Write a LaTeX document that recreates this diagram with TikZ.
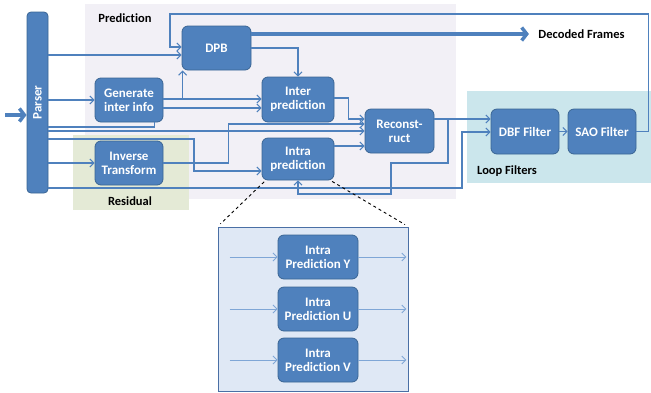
\documentclass[tikz,border=0pt]{standalone}
\usepackage{fontspec}
\setmainfont{Carlito}[Ligatures=NoCommon]
\usetikzlibrary{arrows.meta,positioning}
\definecolor{blkfill}{HTML}{4F81BD}
\definecolor{blkdraw}{HTML}{3A6594}
\definecolor{predbg}{HTML}{F2F0F6}
\definecolor{resbg}{HTML}{E4EAD6}
\definecolor{loopbg}{HTML}{CBE6EC}
\definecolor{zoombg}{HTML}{DFE8F5}
\definecolor{zoomdraw}{HTML}{4A6FA5}
\definecolor{thinline}{HTML}{7FA6D6}

\begin{document}
\begin{tikzpicture}[x=1pt,y=-1pt,
>={Straight Barb[length=4pt,width=8pt]},
blk/.style={draw=blkdraw, fill=blkfill, rounded corners=6pt, line width=0.8pt, text=white, font=\fontsize{13}{14}\selectfont\bfseries, align=center, inner sep=1pt},
conn/.style={draw=blkfill, line width=1.1pt},
fat/.style={draw=blkfill, line width=3.5pt, -{Straight Barb[length=5pt,width=13pt]}},
lbl/.style={font=\fontsize{12.5}{14}\selectfont\bfseries}]%pixel coordinates, y downwards
\useasboundingbox (0,0) rectangle (651,392);
% background regions
\fill[predbg] (85,4) rectangle (456,199);
\fill[resbg] (73,135) rectangle (189,210);
\fill[loopbg] (467,91) rectangle (651,183);
\node[lbl] (predl) at (125,18) {Prediction};
\node[lbl] (resl) at (130,201) {Residual};
\node[lbl] (loopl) at (507,171) {Loop Filters};
% blocks
\node[blk, minimum width=21pt, minimum height=181pt, rounded corners=4pt] (P) at (37.5,102.5) {\rotatebox{90}{Parser}};
\node[blk, minimum width=69pt, minimum height=44pt] (DPB) at (216.5,48) {DPB};
\node[blk, minimum width=68pt, minimum height=44pt] (GII) at (129,100) {Generate\\inter info};
\node[blk, minimum width=72pt, minimum height=45pt] (Inter) at (298,99.5) {Inter\\prediction};
\node[blk, minimum width=72pt, minimum height=42pt] (Intra) at (298,159) {Intra\\prediction};
\node[blk, minimum width=68pt, minimum height=44pt] (IT) at (129,163) {Inverse\\Transform};
\node[blk, minimum width=69pt, minimum height=44pt] (Rec) at (399.5,131) {Reconst-\\ruct};
\node[blk, minimum width=68pt, minimum height=45pt] (DBF) at (525,131.5) {DBF Filter};
\node[blk, minimum width=68pt, minimum height=45pt] (SAO) at (602,131.5) {SAO Filter};
\node[lbl] (DF) at (581.5,34) {Decoded Frames};
\coordinate (In) at (5,115);
% inputs and outputs
\draw[fat] (In) -- (P.west |- In);
\draw[fat] (DPB.east |- 0,34) -- ([xshift=-6pt]DF.west);
\draw[conn,->] (P.east |- 0,55) -- (DPB.west |- 0,55);
\draw[conn,->] (SAO.east) -- ++(12,0) |- (170,14) |- (DPB.west |- 0,47); %loop back to DPB
\draw[conn,->] (DPB.east |- 0,48) -| (Inter.north);
\draw[conn,->] (P.east |- GII.west) -- (GII.west);
\draw[conn,->] (GII.east |- 0,99) -- (Inter.west |- 0,99);
\draw[conn,->] (GII.east |- 0,108) -- (Inter.west |- 0,108);
\draw[conn,->] (GII.east |- 0,99) -| ([xshift=1pt]DPB.south west);
\draw[conn] (P.east |- 0,127) -| ([xshift=-9pt]GII.south east);
\draw[conn,->] (P.east |- 0,131) -- (Rec.west |- 0,131);
\draw[conn,->] (Inter.east |- 0,98) -- ++(14,0) |- (Rec.west |- 0,119);
\draw[conn,->] (IT.east) -- ++(65,0) |- (Rec.west |- 0,124);
\draw[conn,->] (Intra.east |- 0,146) -- (Rec.west |- 0,146);
\draw[conn,->] (P.east |- 0,139) -- (194,139) |- (Intra.west |- 0,171);
\draw[conn,->] (P.east |- IT.west) -- (IT.west);
\draw[conn,->] (Rec.east |- 0,119) -- (DBF.west |- 0,119);
\draw[conn,->] (448,119) |- (391,163) |- (298,194) -- (Intra.south); %reconstructed samples to intra
\draw[conn,->] (P.east |- 0,188) -- (462,188) |- (DBF.west |- 0,132);
\draw[conn,->] (DBF) -- (SAO);
% intra detail
\node[draw=zoomdraw, fill=zoombg, line width=0.8pt, minimum width=190pt, minimum height=164pt] (Box) at (313,309) {};
\draw[dashed, line width=0.9pt, shorten <=2pt, shorten >=4pt] ([xshift=4pt]Intra.south west) -- (Box.north west);
\draw[dashed, line width=0.9pt, shorten <=2pt, shorten >=4pt] ([xshift=-4pt]Intra.south east) -- (Box.north east);
\node[blk, minimum width=80pt, minimum height=44pt] (IPY) at (318,257) {Intra\\Prediction Y};
\node[blk, minimum width=80pt, minimum height=44pt] (IPU) at (318,309) {Intra\\Prediction U};
\node[blk, minimum width=80pt, minimum height=44pt] (IPV) at (318,360) {Intra\\Prediction V};
\foreach \n in {IPY,IPU,IPV}{
  \draw[thinline, line width=0.9pt, ->] ([xshift=12pt]Box.west |- \n.west) -- (\n.west);
  \draw[thinline, line width=0.9pt, ->] (\n.east) -- ([xshift=-2pt]Box.east |- \n.east);
}
\end{tikzpicture}
\end{document}
